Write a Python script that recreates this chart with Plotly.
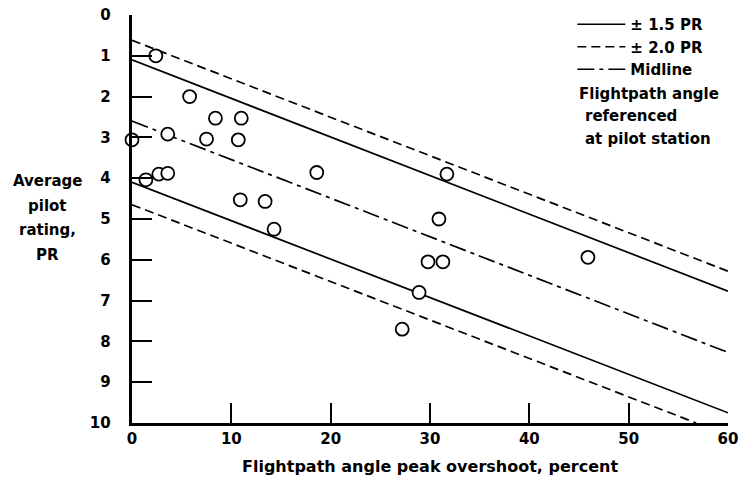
import plotly.graph_objects as go

# ---- data ----
overshoot = [2.4, 5.8, 8.4, 11.0, 3.6, 7.5, 10.7, 0.0, 1.4, 2.7, 3.6,
             10.9, 13.4, 14.3, 18.6, 31.7, 30.9, 29.8, 31.3, 28.9, 27.2, 45.9]
rating = [1.0, 2.0, 2.53, 2.53, 2.92, 3.04, 3.06, 3.06, 4.04, 3.9, 3.88,
          4.53, 4.57, 5.25, 3.86, 3.9, 5.0, 6.05, 6.05, 6.8, 7.7, 5.94]

line_x = [0, 60]
midline_y = [2.6, 8.27]
upper_15_y = [1.1, 6.77]
lower_15_y = [4.1, 9.75]
upper_20_y = [0.62, 6.28]
lower_20_x = [0, 56.8]
lower_20_y = [4.65, 10.0]

x_ticks = [0, 10, 20, 30, 40, 50, 60]
y_ticks = [0, 1, 2, 3, 4, 5, 6, 7, 8, 9, 10]

legend_names = ["\u00b1 1.5 PR", "\u00b1 2.0 PR", "Midline"]
note_lines = ["Flightpath angle", "referenced", "at pilot station"]
y_title_lines = ["Average", "pilot", "rating,", "PR"]
x_title = "Flightpath angle peak overshoot, percent"

FONT = "DejaVu Sans"
fs = 15
dash15 = "solid"
dash20 = "9px,5px"
dashmid = "17px,5px,4px,5px"

fig = go.Figure()
fig.add_trace(go.Scatter(x=line_x, y=upper_15_y, mode="lines", name=legend_names[0],
                         legendgroup="a", line=dict(color="black", width=1.7, dash=dash15)))
fig.add_trace(go.Scatter(x=line_x, y=upper_20_y, mode="lines", name=legend_names[1],
                         legendgroup="b", line=dict(color="black", width=1.7, dash=dash20)))
fig.add_trace(go.Scatter(x=line_x, y=midline_y, mode="lines", name=legend_names[2],
                         legendgroup="c", line=dict(color="black", width=1.7, dash=dashmid)))
fig.add_trace(go.Scatter(x=line_x, y=lower_15_y, mode="lines", showlegend=False,
                         legendgroup="a", line=dict(color="black", width=1.7, dash=dash15)))
fig.add_trace(go.Scatter(x=lower_20_x, y=lower_20_y, mode="lines", showlegend=False,
                         legendgroup="b", line=dict(color="black", width=1.7, dash=dash20)))
fig.add_trace(go.Scatter(x=overshoot, y=rating, mode="markers", showlegend=False,
                         cliponaxis=False,
                         marker=dict(symbol="circle", size=13, color="white",
                                     line=dict(color="black", width=1.8))))

L, R, T, B = 131.5, 14.3, 15, 59
W, H = 742, 482
pw = W - L - R
ph = H - T - B

def px_x(p):
    return (p - L) / pw

def px_y(p):
    return 1 - (p - T) / ph

annotations = []
for i, t in enumerate(y_title_lines):
    annotations.append(dict(text=t, xref="paper", yref="paper", x=px_x(47), y=px_y(181 + i * 24.7),
                            xanchor="center", yanchor="middle", showarrow=False,
                            font=dict(family=FONT, size=fs, color="black", weight="bold")))
note_x = [577, 583, 583]
note_y = [94, 116, 139]
for t, xx, yy in zip(note_lines, note_x, note_y):
    annotations.append(dict(text=t, xref="paper", yref="paper", x=px_x(xx), y=px_y(yy),
                            xanchor="left", yanchor="middle", showarrow=False,
                            font=dict(family=FONT, size=fs, color="black", weight="bold")))
annotations.append(dict(text=x_title, xref="paper", yref="paper", x=0.5, y=px_y(466),
                        xanchor="center", yanchor="middle", showarrow=False,
                        font=dict(family=FONT, size=16, color="black", weight="bold")))

fig.update_layout(
    width=W, height=H,
    margin=dict(l=L, r=R, t=T, b=B, pad=0, autoexpand=False),
    paper_bgcolor="white", plot_bgcolor="white",
    font=dict(family=FONT, size=fs, color="black", weight="bold"),
    legend=dict(x=px_x(572), y=px_y(8), xanchor="left", yanchor="top", itemwidth=48,
                bgcolor="rgba(0,0,0,0)", font=dict(family=FONT, size=fs, weight="bold"),
                tracegroupgap=0),
    annotations=annotations,
    xaxis=dict(range=[0, 60], tickvals=x_ticks, ticks="inside", ticklen=20, tickwidth=1.5,
               tickcolor="black", showline=True, linewidth=2.5, linecolor="black",
               showgrid=False, zeroline=False,
               tickfont=dict(family=FONT, size=fs, weight="bold")),
    yaxis=dict(range=[10, 0], tickvals=y_ticks, ticks="inside", ticklen=20, tickwidth=1.5,
               tickcolor="black", showline=True, linewidth=2.5, linecolor="black",
               showgrid=False, zeroline=False,
               ticktext=[str(v) + "\u00a0\u00a0\u00a0" for v in y_ticks],
               tickfont=dict(family=FONT, size=fs, weight="bold")),
)

fig.write_html("out.html", config={"displayModeBar": False},
               post_script="document.body.style.margin='0';document.body.style.overflow='hidden';")
